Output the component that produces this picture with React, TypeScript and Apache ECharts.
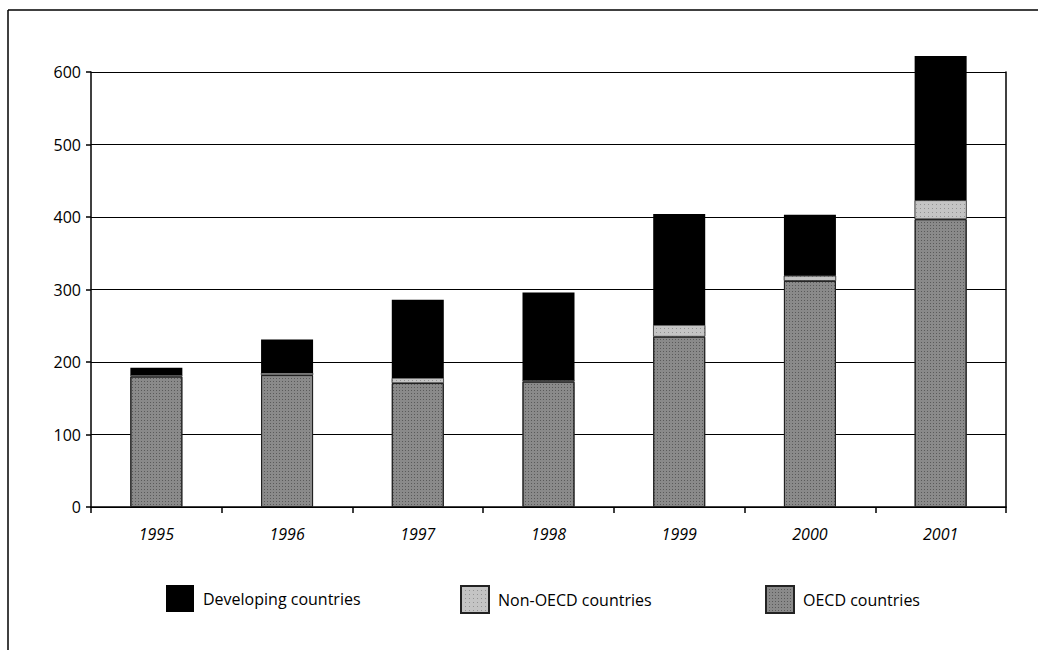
import React, { useEffect, useRef } from "react";
import * as echarts from "echarts";

const years = ["1995", "1996", "1997", "1998", "1999", "2000", "2001"];
const oecd = [180, 182, 171, 173, 235, 312, 397];
const nonOecd = [2, 3, 7, 2, 16, 7, 26];
const developing = [10, 46, 108, 121, 153, 84, 199];
const seriesNames = ["Developing countries", "Non-OECD countries", "OECD countries"];

const FONT = "'Open Sans', 'Noto Sans', sans-serif";

export default function App() {
  const ref = useRef<HTMLDivElement>(null);
  useEffect(() => {
    document.body.style.margin = "0";
    const chart = echarts.init(ref.current!, null, { renderer: "svg" });
    const legendBase = {
      top: 580,
      itemWidth: 28,
      itemHeight: 27,
      icon: "rect",
      textStyle: { fontFamily: FONT, fontSize: 16, color: "#000", padding: [0, 0, 0, 4] },
      selectedMode: false,
    };
    chart.setOption({
      animation: false,
      backgroundColor: "#fff",
      textStyle: { fontFamily: FONT },
      grid: { left: 91, right: 32, top: 72, bottom: 143, containLabel: false },
      legend: [
        { ...legendBase, left: 161, data: [seriesNames[0]] },
        { ...legendBase, left: 455, data: [seriesNames[1]] },
        { ...legendBase, left: 760, data: [seriesNames[2]] },
      ],
      xAxis: {
        type: "category",
        data: years,
        boundaryGap: true,
        axisLine: { show: true, lineStyle: { color: "#000", width: 1.5 } },
        axisTick: { show: true, length: 6, lineStyle: { color: "#000", width: 1.5 } },
        axisLabel: { color: "#000", fontSize: 16, fontStyle: "italic", fontFamily: FONT, margin: 19 },
      },
      yAxis: [
        {
          type: "value",
          min: 0,
          max: 600,
          interval: 100,
          axisLine: { show: true, lineStyle: { color: "#000", width: 1.5 } },
          axisTick: { show: true, length: 5, lineStyle: { color: "#000", width: 1.5 } },
          axisLabel: { color: "#000", fontSize: 16, fontFamily: FONT, margin: 10 },
          splitLine: { show: true, lineStyle: { color: "#000", width: 1.2 } },
        },
        {
          type: "value",
          position: "right",
          min: 0,
          max: 600,
          interval: 100,
          axisLine: { show: true, lineStyle: { color: "#000", width: 1.5 } },
          axisTick: { show: false },
          axisLabel: { show: false },
          splitLine: { show: false },
        },
      ],
      series: [
        {
          name: seriesNames[2],
          type: "bar",
          stack: "total",
          barWidth: 52,
          clip: false,
          data: oecd,
          itemStyle: {
            color: "#8a8a8a",
            borderColor: "#222",
            borderWidth: 1,
            decal: { symbol: "rect", symbolSize: 1, dashArrayX: [1, 2], dashArrayY: [1, 2], color: "rgba(0,0,0,0.35)" },
          },
        },
        {
          name: seriesNames[1],
          type: "bar",
          stack: "total",
          barWidth: 52,
          clip: false,
          data: nonOecd,
          itemStyle: {
            color: "#c4c4c4",
            borderColor: "#222",
            borderWidth: 0.5,
            decal: { symbol: "rect", symbolSize: 1, dashArrayX: [1, 3], dashArrayY: [1, 3], color: "rgba(0,0,0,0.25)" },
          },
        },
        {
          name: seriesNames[0],
          type: "bar",
          stack: "total",
          barWidth: 52,
          clip: false,
          data: developing,
          itemStyle: { color: "#000" },
        },
      ],
      graphic: [
        { type: "line", shape: { x1: 8, y1: 10, x2: 1038, y2: 10 }, style: { stroke: "#000", lineWidth: 1.5 } },
        { type: "line", shape: { x1: 8, y1: 10, x2: 8, y2: 650 }, style: { stroke: "#000", lineWidth: 1.5 } },
      ],
    });
    return () => chart.dispose();
  }, []);
  return <div ref={ref} style={{ width: 1038, height: 650 }} />;
}
